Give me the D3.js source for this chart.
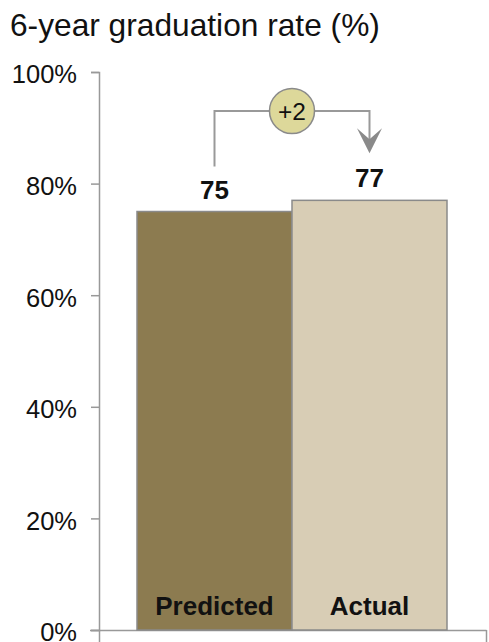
<!DOCTYPE html>
<html><head><meta charset="utf-8">
<script src="https://cdn.jsdelivr.net/npm/d3@7"></script>
<style>body{margin:0;background:#fff}svg{display:block;font-family:"Liberation Sans",Arial,sans-serif}</style>
</head><body>
<script>
const categories = ["Predicted", "Actual"];
const values = [75, 77];
const barColors = ["#8c7b50", "#d8cdb5"];
const yTicks = [0, 20, 40, 60, 80, 100];
const diffLabel = "+2";
const title = "6-year graduation rate (%)";

(function () {
const W = 489, H = 642;
const svg = d3.select("body").append("svg").attr("width", W).attr("height", H);

const y = d3.scaleLinear().domain([0, 100]).range([630, 72]);
const x = d3.scaleBand().domain(categories).range([137, 447]).padding(0);

svg.append("text").attr("x", 10).attr("y", 36).attr("font-size", 31.7).attr("fill", "#111").text(title);

// y axis
const yAxis = d3.axisLeft(y).tickValues(yTicks).tickFormat(d => d + "%").tickSize(8).tickPadding(14);
const gy = svg.append("g").attr("transform", "translate(99,0)").call(yAxis);
gy.select(".domain").attr("stroke", "#999").attr("stroke-width", 1.5);
gy.selectAll(".tick line").attr("stroke", "#999").attr("stroke-width", 1.5);
gy.selectAll(".tick text").attr("font-size", 25.5).attr("fill", "#111").attr("font-family", "Liberation Sans, Arial, sans-serif").attr("dy", "0.43em");

// x axis
const xAxisScale = d3.scaleLinear().domain([0, 1]).range([99, 486]);
const gx = svg.append("g").attr("transform", "translate(0,630)")
  .call(d3.axisBottom(xAxisScale).tickValues([0, 1]).tickFormat("").tickSizeOuter(0).tickSize(12));
gx.select(".domain").attr("stroke", "#999").attr("stroke-width", 1.5).attr("d", "M90,0.5H486.5");
gx.selectAll(".tick line").attr("stroke", "#999").attr("stroke-width", 1.5);

// bars
svg.selectAll("rect.bar").data(categories).join("rect").attr("class", "bar")
  .attr("x", d => x(d)).attr("width", x.bandwidth())
  .attr("y", (d, i) => y(values[i])).attr("height", (d, i) => y(0) - y(values[i]))
  .attr("fill", (d, i) => barColors[i]).attr("stroke", "#8a8a8a").attr("stroke-width", 1.5);

// value labels
svg.selectAll("text.val").data(categories).join("text").attr("class", "val")
  .attr("x", d => x(d) + x.bandwidth() / 2)
  .attr("y", (d, i) => y(values[i]) - 13)
  .attr("text-anchor", "middle").attr("font-size", 26).attr("font-weight", "bold").attr("fill", "#111")
  .text((d, i) => values[i]);

// category labels
svg.selectAll("text.cat").data(categories).join("text").attr("class", "cat")
  .attr("x", d => x(d) + x.bandwidth() / 2).attr("y", 615)
  .attr("text-anchor", "middle").attr("font-size", 26).attr("font-weight", "bold").attr("fill", "#111")
  .text(d => d);

// annotation connector
const x0 = x(categories[0]) + x.bandwidth() / 2;
const x1 = x(categories[1]) + x.bandwidth() / 2;
const topY = 111;
svg.append("path")
  .attr("d", `M${x0},${y(values[0]) - 45}V${topY}H${x1}V${y(values[1]) - 50}`)
  .attr("fill", "none").attr("stroke", "#999").attr("stroke-width", 2);
const tipY = y(values[1]) - 47;
svg.append("path")
  .attr("d", `M${x1},${tipY}L${x1 - 12.5},${tipY - 25}L${x1},${tipY - 14}L${x1 + 12.5},${tipY - 25}Z`)
  .attr("fill", "#8a8a8a");
const cx = (x0 + x1) / 2;
svg.append("circle").attr("cx", cx).attr("cy", topY).attr("r", 22.5)
  .attr("fill", "#ddd89a").attr("stroke", "#8a8a8a").attr("stroke-width", 1.5);
svg.append("text").attr("x", cx).attr("y", topY + 9).attr("text-anchor", "middle")
  .attr("font-size", 24.5).attr("fill", "#111").text(diffLabel);
})();
</script>
</body></html>
